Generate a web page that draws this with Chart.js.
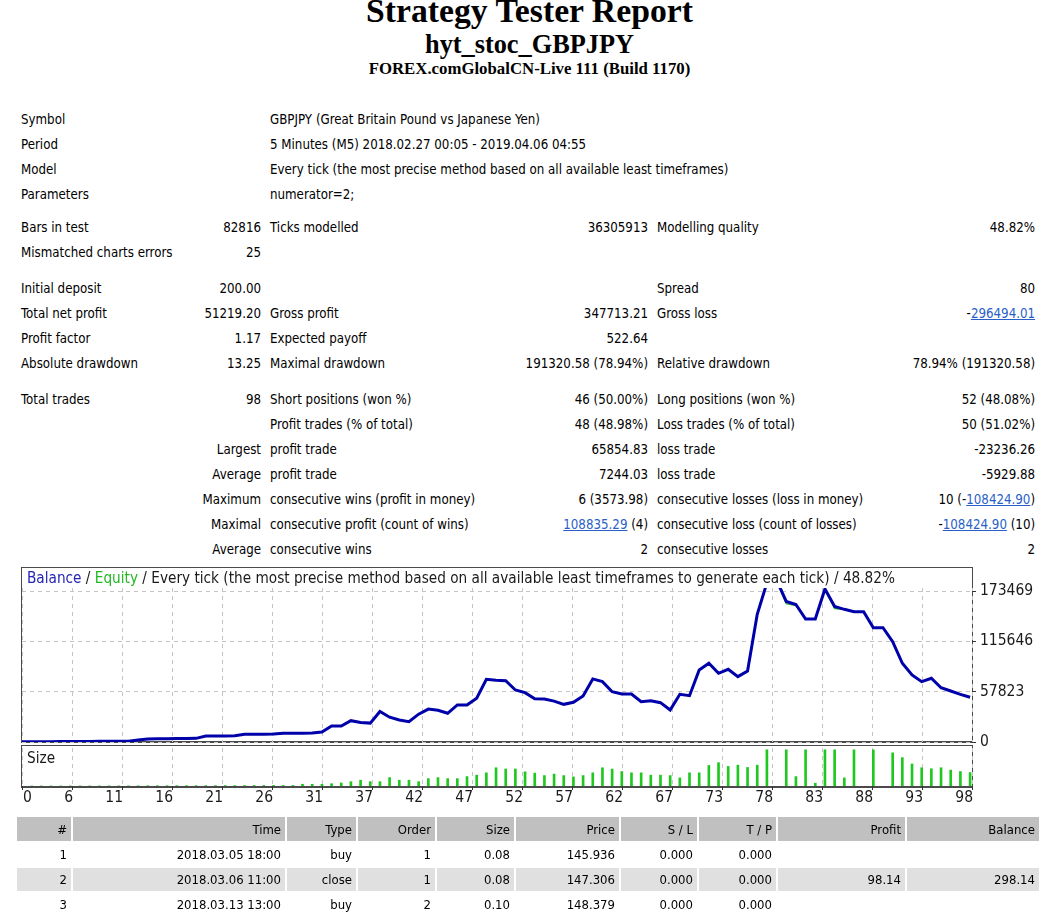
<!DOCTYPE html>
<html>
<head>
<meta charset="utf-8">
<title>Strategy Tester: hyt_stoc_GBPJPY</title>
<script src="https://cdn.jsdelivr.net/npm/chart.js@4.4.1/dist/chart.umd.min.js"></script>
<style>
body { margin: 0; background: #fff; }
#page { position: relative; width: 1059px; height: 918px; overflow: hidden; background: #fff;
	font-family: "DejaVu Sans Condensed", "DejaVu Sans", sans-serif; color: #000; }
.hdr { position: absolute; left: 0; width: 1059px; text-align: center; line-height: 1;
	font-family: "Liberation Serif", "Times New Roman", serif; font-weight: bold; white-space: nowrap; }
#info { position: absolute; left: 18px; top: 106.5px; border-collapse: collapse; table-layout: fixed; width: 1020px; font-size: 13.2px; }
#info td { height: 25px; padding: 0 3px; white-space: nowrap; vertical-align: middle; overflow: visible; }
#info td.r { text-align: right; }
#info td.l2 { padding-left: 6px; }
#info tr.g8 td { height: 8px; }
#info tr.g11 td { height: 11px; }
#info a { color: #2a5fc8; text-decoration: underline; }
.frame { position: absolute; left: 21px; width: 952px; box-sizing: border-box; border: 1px solid #4a4a4a; border-bottom-width: 2px; }
.ctitle { position: absolute; white-space: nowrap; font-size: 15.2px; line-height: 20px; color: #1a1a1a; }
.cbox { position: absolute; left: 0; width: 1059px; }
#trades { position: absolute; left: 15px; top: 815px; border-collapse: separate; border-spacing: 2px; table-layout: fixed; font-size: 13px; }
#trades td { padding: 0 4px 0 0; text-align: right; white-space: nowrap; height: 23px; vertical-align: middle; }
#trades tr.head td { background: #c0c0c0; height: 24px; }
#trades tr.alt td { background: #e0e0e0; }
</style>
</head>
<body>
<div id="page">
	<div class="hdr" style="top:-6px; font-size:33.7px;">Strategy Tester Report</div>
	<div class="hdr" style="top:32px; font-size:26.3px;">hyt_stoc_GBPJPY</div>
	<div class="hdr" style="top:61px; font-size:16.8px;">FOREX.comGlobalCN-Live 111 (Build 1170)</div>

	<table id="info">
		<colgroup><col style="width:180px"><col style="width:66px"><col style="width:136px"><col style="width:251px"><col style="width:139px"><col style="width:248px"></colgroup>
		<tr><td colspan="2">Symbol</td><td class="l2" colspan="4">GBPJPY (Great Britain Pound vs Japanese Yen)</td></tr>
		<tr><td colspan="2">Period</td><td class="l2" colspan="4">5 Minutes (M5) 2018.02.27 00:05 - 2019.04.06 04:55</td></tr>
		<tr><td colspan="2">Model</td><td class="l2" colspan="4">Every tick (the most precise method based on all available least timeframes)</td></tr>
		<tr><td colspan="2">Parameters</td><td class="l2" colspan="4">numerator=2;</td></tr>
		<tr class="g8"><td colspan="6"></td></tr>
		<tr><td>Bars in test</td><td class="r">82816</td><td class="l2">Ticks modelled</td><td class="r">36305913</td><td class="l2">Modelling quality</td><td class="r">48.82%</td></tr>
		<tr><td>Mismatched charts errors</td><td class="r">25</td><td></td><td></td><td></td><td></td></tr>
		<tr class="g11"><td colspan="6"></td></tr>
		<tr><td>Initial deposit</td><td class="r">200.00</td><td></td><td></td><td class="l2">Spread</td><td class="r">80</td></tr>
		<tr><td>Total net profit</td><td class="r">51219.20</td><td class="l2">Gross profit</td><td class="r">347713.21</td><td class="l2">Gross loss</td><td class="r">-<a>296494.01</a></td></tr>
		<tr><td>Profit factor</td><td class="r">1.17</td><td class="l2">Expected payoff</td><td class="r">522.64</td><td></td><td></td></tr>
		<tr><td>Absolute drawdown</td><td class="r">13.25</td><td class="l2">Maximal drawdown</td><td class="r">191320.58 (78.94%)</td><td class="l2">Relative drawdown</td><td class="r">78.94% (191320.58)</td></tr>
		<tr class="g11"><td colspan="6"></td></tr>
		<tr><td>Total trades</td><td class="r">98</td><td class="l2">Short positions (won %)</td><td class="r">46 (50.00%)</td><td class="l2">Long positions (won %)</td><td class="r">52 (48.08%)</td></tr>
		<tr><td></td><td></td><td class="l2">Profit trades (% of total)</td><td class="r">48 (48.98%)</td><td class="l2">Loss trades (% of total)</td><td class="r">50 (51.02%)</td></tr>
		<tr><td></td><td class="r">Largest</td><td class="l2">profit trade</td><td class="r">65854.83</td><td class="l2">loss trade</td><td class="r">-23236.26</td></tr>
		<tr><td></td><td class="r">Average</td><td class="l2">profit trade</td><td class="r">7244.03</td><td class="l2">loss trade</td><td class="r">-5929.88</td></tr>
		<tr><td></td><td class="r">Maximum</td><td class="l2">consecutive wins (profit in money)</td><td class="r">6 (3573.98)</td><td class="l2">consecutive losses (loss in money)</td><td class="r">10 (-<a>108424.90</a>)</td></tr>
		<tr><td></td><td class="r">Maximal</td><td class="l2">consecutive profit (count of wins)</td><td class="r"><a>108835.29</a> (4)</td><td class="l2">consecutive loss (count of losses)</td><td class="r">-<a>108424.90</a> (10)</td></tr>
		<tr><td></td><td class="r">Average</td><td class="l2">consecutive wins</td><td class="r">2</td><td class="l2">consecutive losses</td><td class="r">2</td></tr>
	</table>

	<div class="frame" style="top:567px; height:176px;"></div>
	<div class="frame" style="top:745px; height:43px;"></div>
	<div class="cbox" style="top:560px; height:200px;"><canvas id="balanceChart"></canvas></div>
	<div class="cbox" style="top:740px; height:80px;"><canvas id="sizeChart"></canvas></div>
	<div class="ctitle" style="left:27px; top:568px;"><span style="color:#2424b4">Balance</span> / <span style="color:#22b822">Equity</span> / Every tick (the most precise method based on all available least timeframes to generate each tick) / 48.82%</div>
	<div class="ctitle" style="left:27px; top:748px;">Size</div>

	<table id="trades">
		<colgroup><col style="width:54px"><col style="width:212px"><col style="width:69px"><col style="width:77px"><col style="width:77px"><col style="width:103px"><col style="width:76px"><col style="width:77px"><col style="width:127px"><col style="width:132px"></colgroup>
		<tr class="head"><td>#</td><td>Time</td><td>Type</td><td>Order</td><td>Size</td><td>Price</td><td>S / L</td><td>T / P</td><td>Profit</td><td>Balance</td></tr>
		<tr><td>1</td><td>2018.03.05 18:00</td><td>buy</td><td>1</td><td>0.08</td><td>145.936</td><td>0.000</td><td>0.000</td><td></td><td></td></tr>
		<tr class="alt"><td>2</td><td>2018.03.06 11:00</td><td>close</td><td>1</td><td>0.08</td><td>147.306</td><td>0.000</td><td>0.000</td><td>98.14</td><td>298.14</td></tr>
		<tr><td>3</td><td>2018.03.13 13:00</td><td>buy</td><td>2</td><td>0.10</td><td>148.379</td><td>0.000</td><td>0.000</td><td></td><td></td></tr>
		<tr class="alt"><td></td><td></td><td></td><td></td><td></td><td></td><td></td><td></td><td></td><td></td></tr>
	</table>
</div>

<script>
// balance after each trade (index 0 = initial deposit)
const balance = [
	200, 298.14, 330, 390, 440, 510, 580, 650, 720, 800,
	880, 960, 2300, 3500, 3700, 3800, 3900, 4000, 4200, 6800,
	6900, 7000, 7100, 8900, 8900, 9000, 9100, 10000, 10100, 10200,
	10300, 11500, 18400, 18400, 24500, 22500, 21700, 35000, 28500, 25300,
	23400, 32000, 37800, 36500, 33000, 42600, 42600, 50300, 72000, 71000,
	70500, 59800, 56700, 49600, 49300, 47000, 43300, 45600, 52900, 72500,
	69400, 57800, 55200, 55200, 46300, 47500, 45200, 36800, 54800, 53200,
	82800, 90500, 79000, 83600, 75100, 81600, 146700, 183000, 186000, 161500,
	158000, 141300, 141300, 175900, 155800, 152500, 149800, 149800, 131400, 131400,
	115300, 90500, 77000, 69400, 73300, 62400, 58600, 54800, 51419.20
];
const equity = [
	200, 298.14, 330, 390, 440, 510, 580, 650, 720, 800,
	880, 960, 2300, 3500, 3700, 3800, 3900, 4000, 4200, 6800,
	6900, 7000, 7100, 8900, 8900, 9000, 9100, 10000, 10100, 10200,
	10300, 11500, 18400, 18400, 24500, 22500, 21700, 35000, 28500, 25300,
	23400, 32000, 37800, 36500, 33000, 42600, 42600, 50300, 72000, 71000,
	70500, 59800, 56700, 49600, 49300, 47000, 43300, 45600, 52900, 72500,
	69400, 57800, 55200, 55200, 46300, 47500, 45200, 36800, 54800, 53200,
	82800, 90500, 79000, 83600, 75100, 81600, 146700, 183000, 186000, 159000,
	156800, 141300, 141300, 175900, 153400, 152500, 149800, 149800, 131400, 131400,
	115300, 90500, 77000, 69400, 73300, 62400, 58600, 54800, 51419.20
];
// lot size of each trade
const sizes = [
	null, 0.08, 0.10, 0.10, 0.12, 0.13, 0.15, 0.16, 0.18, 0.20,
	0.22, 0.24, 0.26, 0.40, 0.45, 0.47, 0.48, 0.50, 0.52, 0.55,
	0.60, 0.62, 0.64, 0.70, 0.72, 0.74, 0.76, 0.80, 0.82, 2.4,
	2.4, 2.4, 3.2, 4.2, 6.0, 8.0, 6.0, 6.0, 11.6, 8.0,
	8.0, 6.0, 10.2, 11.6, 10.2, 10.2, 13.0, 15.0, 18.2, 25.2,
	23.5, 23.5, 19.6, 17.8, 14.4, 16.4, 14.4, 12.6, 14.4, 18.2,
	25.2, 23.4, 20.0, 18.2, 18.2, 15.0, 15.0, 14.4, 11.2, 18.2,
	18.2, 28.4, 32.2, 27.0, 28.8, 25.6, 28.8, 50, null, 50,
	13.0, 50, 3.8, 50, 50, 11.2, 50, null, 50, null,
	45.8, 39.2, 30.4, 25.2, 23.8, 25.2, 22.0, 20.0, 18.6
];
const xTickLabels = ['0', '6', '11', '16', '21', '26', '31', '37', '42', '47', '52', '57', '62', '67', '73', '78', '83', '88', '93', '98'];
const yTickValues = [0, 57823, 115646, 173469];

const X_MAX = 98.2;
const Y_MAX = 177000;
const SIZE_MAX = 52.5;
const FONT = { family: '"DejaVu Sans Condensed", "DejaVu Sans", sans-serif', size: 15.5 };
const GRID = '#c4c4c4';

function xTicks(scale) {
	const step = X_MAX / (xTickLabels.length - 1);
	scale.ticks = xTickLabels.map((l, k) => ({ value: k * step }));
}

new Chart(document.getElementById('balanceChart'), {
	type: 'line',
	data: {
		datasets: [
			{
				label: 'Balance',
				data: balance.map((v, i) => ({ x: i, y: v })),
				borderColor: '#0000aa',
				borderWidth: 3,
				pointRadius: 0,
				tension: 0,
			},
			{
				label: 'Equity',
				data: equity.map((v, i) => ({ x: i, y: v })),
				borderColor: '#22c022',
				borderWidth: 1.5,
				pointRadius: 0,
				tension: 0,
			},
		],
	},
	options: {
		responsive: true,
		maintainAspectRatio: false,
		animation: false,
		events: [],
		layout: { padding: { left: 22, top: 28, right: 0, bottom: 18 } },
		plugins: { legend: { display: false }, tooltip: { enabled: false } },
		scales: {
			x: {
				type: 'linear',
				min: 0,
				max: X_MAX,
				afterBuildTicks: xTicks,
				afterFit: (s) => { s.height = 0; },
				ticks: { display: false },
				grid: { color: GRID, drawTicks: false },
				border: { display: false, dash: [4, 4] },
			},
			y: {
				position: 'right',
				min: 0,
				max: Y_MAX,
				afterBuildTicks: (s) => { s.ticks = yTickValues.map((v) => ({ value: v })); },
				afterFit: (s) => { s.width = 87; },
				ticks: { font: FONT, color: '#1a1a1a', padding: 4, callback: (v) => String(v) },
				grid: { color: GRID, tickColor: '#333', tickLength: 4 },
				border: { display: false, dash: [4, 4] },
			},
		},
	},
});

const xLabels = {
	id: 'xLabels',
	afterDraw(chart) {
		const s = chart.scales.x;
		const ctx = chart.ctx;
		ctx.save();
		ctx.font = FONT.size + 'px ' + FONT.family;
		ctx.fillStyle = '#1a1a1a';
		ctx.textBaseline = 'middle';
		s.ticks.forEach((t, k) => {
			const px = s.getPixelForValue(t.value);
			ctx.textAlign = k === 0 ? 'left' : 'right';
			ctx.fillText(xTickLabels[k], px + 1, chart.chartArea.bottom + 12);
		});
		ctx.restore();
	},
};

new Chart(document.getElementById('sizeChart'), {
	type: 'bar',
	data: {
		datasets: [
			{
				label: 'Size',
				data: sizes.map((v, i) => ({ x: i, y: v })),
				backgroundColor: '#1ec81e',
				barThickness: 2,
			},
		],
	},
	options: {
		responsive: true,
		maintainAspectRatio: false,
		animation: false,
		events: [],
		layout: { padding: { left: 22, top: 8, right: 87, bottom: 0 } },
		plugins: { legend: { display: false }, tooltip: { enabled: false } },
		scales: {
			x: {
				type: 'linear',
				min: 0,
				max: X_MAX,
				offset: false,
				afterBuildTicks: xTicks,
				afterFit: (s) => { s.height = 34; },
				ticks: { display: false },
				grid: { color: GRID, offset: false, tickColor: '#333', tickLength: 4 },
				border: { display: false, dash: [4, 4] },
			},
			y: {
				display: false,
				min: 0,
				max: SIZE_MAX,
			},
		},
	},
	plugins: [xLabels],
});
</script>
</body>
</html>
